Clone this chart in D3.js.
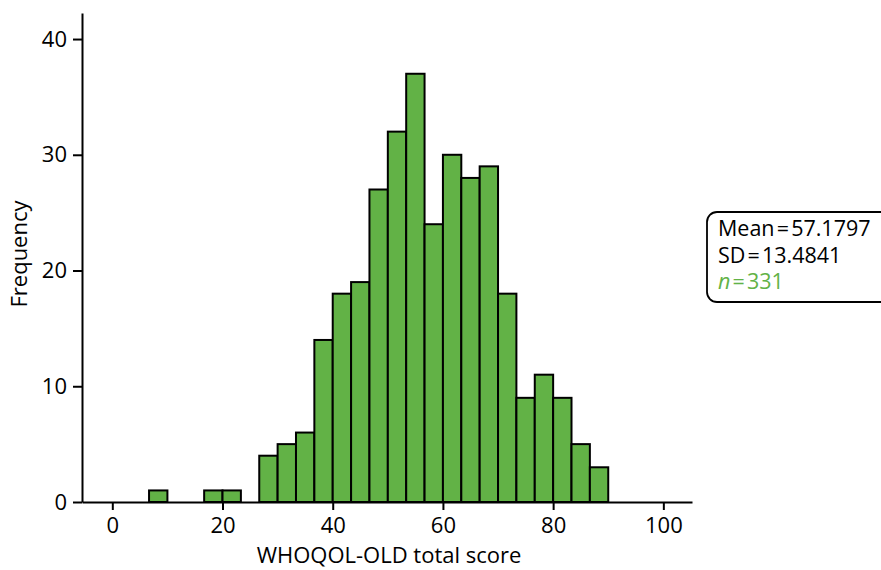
<!DOCTYPE html>
<html>
<head>
<meta charset="utf-8">
<script src="https://cdn.jsdelivr.net/npm/d3@7"></script>
<style>
  body { margin: 0; background: #fff; }
  svg { font-family: "Open Sans", sans-serif; }
</style>
</head>
<body>
<svg id="chart" width="881" height="570"></svg>
<script>
// histogram bins (lower edge) and counts, bin width 10/3
const binStarts = [6.667, 16.667, 20, 26.667, 30, 33.333, 36.667, 40, 43.333, 46.667, 50,
                   53.333, 56.667, 60, 63.333, 66.667, 70, 73.333, 76.667, 80, 83.333, 86.667];
const binWidth = 10 / 3;
const counts = [1, 1, 1, 4, 5, 6, 14, 18, 19, 27, 32, 37, 24, 30, 28, 29, 18, 9, 11, 9, 5, 3];
const xTicks = [0, 20, 40, 60, 80, 100];
const yTicks = [0, 10, 20, 30, 40];
const statLines = ['Mean\u200a=\u200a57.1797', 'SD\u200a=\u200a13.4841'];

const svg = d3.select('#chart');

const x = d3.scaleLinear().domain([-5.5, 105.2]).range([82, 692]);
const y = d3.scaleLinear().domain([0, 42.25]).range([502, 13]);

// bars
svg.append('g')
  .selectAll('rect')
  .data(binStarts)
  .join('rect')
  .attr('x', d => x(d))
  .attr('y', (d, i) => y(counts[i]))
  .attr('width', d => x(d + binWidth) - x(d))
  .attr('height', (d, i) => y(0) - y(counts[i]))
  .attr('fill', '#62b246')
  .attr('stroke', '#000')
  .attr('stroke-width', 2);

// axes
const xAxis = svg.append('g')
  .attr('transform', `translate(0,${y(0)})`)
  .call(d3.axisBottom(x).tickValues(xTicks).tickSize(8).tickPadding(7).tickSizeOuter(0));
const yAxis = svg.append('g')
  .attr('transform', `translate(${x.range()[0]},0)`)
  .call(d3.axisLeft(y).tickValues(yTicks).tickSize(9).tickPadding(6).tickSizeOuter(0));

[xAxis, yAxis].forEach(a => {
  a.select('.domain').attr('stroke', '#000').attr('stroke-width', 2);
  a.selectAll('.tick line').attr('stroke', '#000').attr('stroke-width', 2);
  a.selectAll('.tick text')
    .attr('font-size', 22)
    .attr('font-family', '"Open Sans", sans-serif')
    .attr('fill', '#000');
});

// axis titles
svg.append('text')
  .attr('x', 389)
  .attr('y', 563)
  .attr('text-anchor', 'middle')
  .attr('font-size', 22)
  .text('WHOQOL-OLD total score');

svg.append('text')
  .attr('transform', 'translate(27,254) rotate(-90)')
  .attr('text-anchor', 'middle')
  .attr('font-size', 22)
  .text('Frequency');

// stats box
svg.append('rect')
  .attr('x', 707)
  .attr('y', 212)
  .attr('width', 200)
  .attr('height', 90)
  .attr('rx', 10)
  .attr('fill', '#fff')
  .attr('stroke', '#000')
  .attr('stroke-width', 1.8);

const stats = svg.append('text')
  .attr('x', 718)
  .attr('y', 236)
  .attr('font-size', 21.5);
statLines.forEach((t, i) => {
  stats.append('tspan').attr('x', 718).attr('dy', i === 0 ? 0 : 26.5).text(t);
});
const nLine = stats.append('tspan').attr('x', 718).attr('dy', 26.5).attr('fill', '#62b246');
nLine.append('tspan').attr('font-style', 'italic').text('n');
nLine.append('tspan').text('\u200a=\u200a331');
</script>
</body>
</html>
